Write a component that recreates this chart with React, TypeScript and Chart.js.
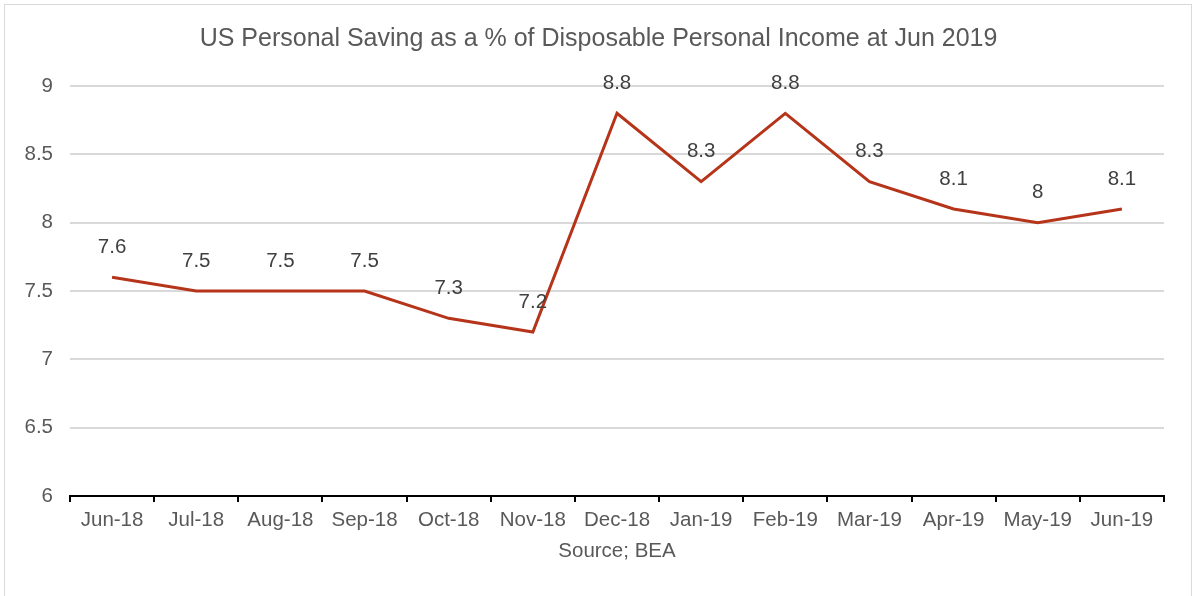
import React, { useEffect, useRef } from "react";
import { Chart, registerables } from "chart.js";

Chart.register(...registerables);

const categories = ["Jun-18", "Jul-18", "Aug-18", "Sep-18", "Oct-18", "Nov-18", "Dec-18", "Jan-19", "Feb-19", "Mar-19", "Apr-19", "May-19", "Jun-19"];
const savingRate = [7.6, 7.5, 7.5, 7.5, 7.3, 7.2, 8.8, 8.3, 8.8, 8.3, 8.1, 8.0, 8.1];
const dataLabels = ["7.6", "7.5", "7.5", "7.5", "7.3", "7.2", "8.8", "8.3", "8.8", "8.3", "8.1", "8", "8.1"];
const titleText = "US Personal Saving as a % of Disposable Personal Income at Jun 2019";
const xAxisTitle = "Source; BEA";

const FONT = "'Liberation Sans', Arial, Helvetica, sans-serif";

const labelPlugin = {
  id: "pointLabels",
  afterDatasetsDraw(chart: any) {
    const ctx = chart.ctx;
    const meta = chart.getDatasetMeta(0);
    ctx.save();
    ctx.font = `20.5px ${FONT}`;
    ctx.fillStyle = "#404040";
    ctx.textAlign = "center";
    ctx.textBaseline = "middle";
    meta.data.forEach((pt: any, i: number) => {
      ctx.fillText(dataLabels[i], pt.x, pt.y - 30);
    });
    ctx.restore();
  },
};

const titlePlugin = {
  id: "centeredTitle",
  afterDraw(chart: any) {
    const ctx = chart.ctx;
    ctx.save();
    ctx.font = `25px ${FONT}`;
    ctx.fillStyle = "#595959";
    ctx.textAlign = "center";
    ctx.textBaseline = "middle";
    ctx.fillText(titleText, chart.width / 2 + 2, 39);
    ctx.restore();
  },
};

export default function App() {
  const ref = useRef<HTMLCanvasElement | null>(null);
  useEffect(() => {
    if (!ref.current) return;
    const chart = new Chart(ref.current, {
      type: "line",
      data: {
        labels: categories,
        datasets: [
          {
            data: savingRate,
            borderColor: "#b5341a",
            borderWidth: 3,
            pointRadius: 0,
            tension: 0,
            fill: false,
          },
        ],
      },
      options: {
        responsive: false,
        animation: false,
        devicePixelRatio: 1,
        layout: { padding: { left: 0, right: 29, top: 86, bottom: 0 } },
        plugins: {
          legend: { display: false },
          tooltip: { enabled: false },
          title: { display: false },
        },
        scales: {
          x: {
            offset: true,
            grid: {
              display: true,
              offset: true,
              drawOnChartArea: false,
              drawTicks: true,
              tickLength: 6,
              color: "#000000",
              lineWidth: 2,
            },
            border: { display: true, color: "#000000", width: 2 },
            ticks: {
              color: "#595959",
              font: { family: FONT, size: 20.5 },
              padding: 6,
              maxRotation: 0,
              autoSkip: false,
            },
            title: {
              display: true,
              text: xAxisTitle,
              color: "#595959",
              font: { family: FONT, size: 20.5 },
              padding: { top: 0, bottom: 32.7 },
            },
            afterFit(scale: any) {
              scale.height = 100;
            },
          },
          y: {
            min: 6,
            max: 9,
            ticks: {
              stepSize: 0.5,
              color: "#595959",
              font: { family: FONT, size: 20.5 },
              padding: 17,
              callback: (v: any) => String(Number(v)),
            },
            grid: {
              color: "#d9d9d9",
              lineWidth: 2,
              drawTicks: false,
            },
            border: { display: false },
            afterFit(scale: any) {
              scale.width = 70;
            },
          },
        },
      },
      plugins: [labelPlugin, titlePlugin],
    });
    return () => chart.destroy();
  }, []);

  return (
    <div style={{ position: "fixed", left: 0, top: 0, width: 1193, height: 596, overflow: "hidden", background: "#fff" }}>
      <div
        style={{
          position: "absolute",
          left: 4,
          top: 4,
          width: 1188,
          height: 700,
          border: "1px solid #d9d9d9",
          boxSizing: "border-box",
        }}
      />
      <canvas ref={ref} width={1193} height={596} style={{ position: "absolute", left: 0, top: 0, display: "block" }} />
    </div>
  );
}
